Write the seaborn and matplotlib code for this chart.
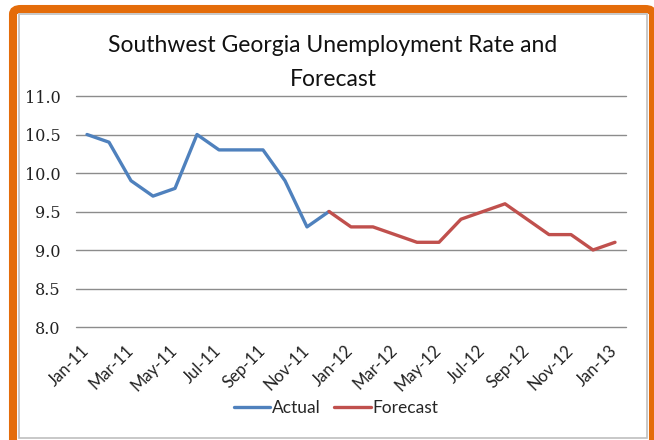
import matplotlib
matplotlib.use("Agg")
import matplotlib.pyplot as plt
from matplotlib.patches import FancyBboxPatch, Rectangle
import seaborn as sns
import pandas as pd

# Monthly labels, Jan-2011 through Jan-2013
months = ["Jan-11", "Feb-11", "Mar-11", "Apr-11", "May-11", "Jun-11", "Jul-11",
          "Aug-11", "Sep-11", "Oct-11", "Nov-11", "Dec-11",
          "Jan-12", "Feb-12", "Mar-12", "Apr-12", "May-12", "Jun-12", "Jul-12",
          "Aug-12", "Sep-12", "Oct-12", "Nov-12", "Dec-12", "Jan-13"]

# Observed unemployment rate (Jan-11 .. Dec-11)
actual = [10.5, 10.4, 9.9, 9.7, 9.8, 10.5, 10.3, 10.3, 10.3, 9.9, 9.3, 9.5]
# Forecast (Dec-11 .. Jan-13), starting from the last observed value
forecast = [9.5, 9.3, 9.3, 9.2, 9.1, 9.1, 9.4, 9.5, 9.6, 9.4, 9.2, 9.2, 9.0, 9.1]

y_ticks = [8.0, 8.5, 9.0, 9.5, 10.0, 10.5, 11.0]

rows = []
for i, v in enumerate(actual):
    rows.append({"pos": i, "rate": v, "series": "Actual"})
start = len(actual) - 1
for j, v in enumerate(forecast):
    rows.append({"pos": start + j, "rate": v, "series": "Forecast"})
df = pd.DataFrame(rows)

sns.set_theme(style="white")
plt.rcParams["font.family"] = ["Lato", "DejaVu Sans"]

W, H = 654, 440
fig = plt.figure(figsize=(W / 100, H / 100), dpi=100)
fig.patch.set_facecolor("white")

# Orange frame with rounded corners and a thin grey inner border
frame = FancyBboxPatch((13 / W, -0.05), (653 - 13) / W, 1 - 9 / H + 0.05,
                       boxstyle="round,pad=0,rounding_size=0.012",
                       transform=fig.transFigure, fill=False,
                       edgecolor="#E46C0A", linewidth=5.8, zorder=0)
fig.patches.append(frame)
inner = Rectangle((19 / W, 1 - 438 / H), (647 - 19) / W, (438 - 14) / H,
                  transform=fig.transFigure, fill=False,
                  edgecolor="#BFBFBF", linewidth=1.2, zorder=0)
fig.patches.append(inner)

ax = fig.add_axes([76 / W, 1 - 327 / H, (626 - 76) / W, (327 - 96) / H])
ax.set_facecolor("none")

palette = {"Actual": "#4F81BD", "Forecast": "#C0504D"}
sns.lineplot(data=df, x="pos", y="rate", hue="series", palette=palette,
             linewidth=2.4, ax=ax, legend=False)

ax.set_xlim(-0.5, len(months) - 0.5)
ax.set_ylim(8.0, 11.0)
ax.set_yticks(y_ticks)
ax.set_yticklabels([f"{t:.1f}" for t in y_ticks], family="DejaVu Serif",
                   fontsize=11.5, color="#222222")
tick_pos = list(range(0, len(months), 2))
ax.set_xticks(tick_pos)
ax.set_xticklabels([months[p] for p in tick_pos], rotation=45, ha="right",
                   va="center", rotation_mode="anchor", fontsize=12,
                   color="#222222")
ax.tick_params(axis="y", length=0, pad=11)
ax.tick_params(axis="x", length=0, pad=15)

ax.grid(axis="y", color="#8C8C8C", linewidth=1.0)
ax.grid(axis="x", visible=False)
for gl in ax.get_ygridlines():
    gl.set_clip_on(False)
for s in ax.spines.values():
    s.set_visible(False)
ax.set_xlabel("")
ax.set_ylabel("")

fig.text(333 / W, 1 - 46 / H, "Southwest Georgia Unemployment Rate and",
         ha="center", va="center", fontsize=16.5, color="#111111")
fig.text(333 / W, 1 - 79 / H, "Forecast", ha="center", va="center",
         fontsize=16.5, color="#111111")

handles = [plt.Line2D([], [], color=palette[k], linewidth=2.4) for k in ["Actual", "Forecast"]]
fig.legend(handles, ["Actual", "Forecast"], loc="center",
           bbox_to_anchor=(336 / W, 1 - 408 / H), ncol=2, frameon=False,
           fontsize=12.5, handlelength=2.1, handletextpad=0.1, columnspacing=0.8)

fig.savefig("out.png", dpi=100, facecolor="white")
